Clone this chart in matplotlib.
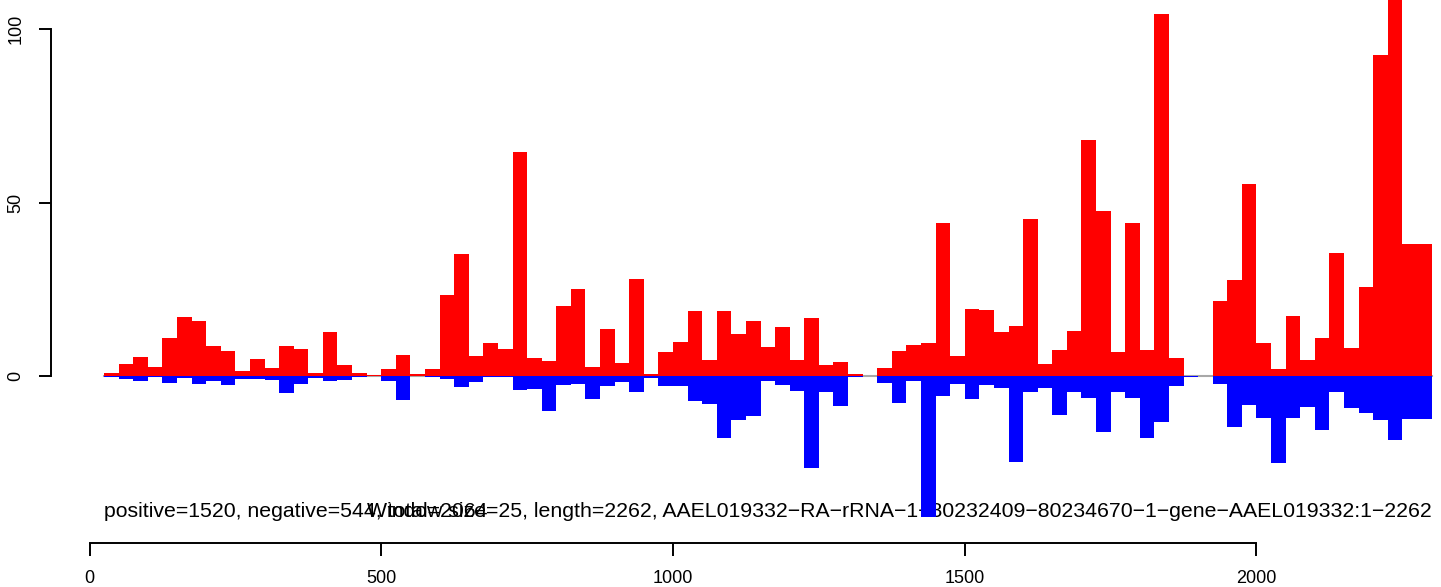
import numpy as np
import matplotlib
matplotlib.use("Agg")
import matplotlib.pyplot as plt

plt.rcParams['font.family'] = ['Liberation Sans', 'DejaVu Sans']

#Window settings
window = 25
seq_len = 2262

#Positive strand values per window
pos = [0.9, 3.5, 5.5, 2.6, 11.0, 17.0, 15.9, 8.6, 7.2, 1.4,
       4.9, 2.3, 8.6, 7.8, 0.9, 12.7, 3.2, 0.9, 0.3, 2.0,
       6.1, 0.6, 2.0, 23.3, 35.2, 5.8, 9.5, 7.8, 64.6, 5.2,
       4.3, 20.2, 25.1, 2.6, 13.5, 3.7, 28.0, 0.6, 6.9, 9.8,
       18.7, 4.6, 18.7, 12.1, 15.9, 8.4, 14.1, 4.6, 16.7, 3.2,
       4.0, 0.6, 0.0, 2.3, 7.2, 8.9, 9.5, 44.1, 5.8, 19.3,
       19.0, 12.7, 14.4, 45.2, 3.5, 7.5, 13.0, 68.0, 47.6, 6.9,
       44.1, 7.5, 104.3, 5.2, 0.0, 0.0, 21.6, 27.7, 55.3, 9.5,
       2.0, 17.3, 4.6, 11.0, 35.4, 8.1, 25.6, 92.5, 115.0, 38.0,
       38.0]

#Negative strand values per window
neg = [0.2, 0.8, 1.4, 0.2, 1.9, 0.5, 2.2, 1.4, 2.5, 0.8,
       0.8, 1.1, 4.8, 2.2, 0.5, 1.3, 1.1, 0.2, 0.0, 1.4,
       6.9, 0.0, 0.2, 0.9, 3.2, 1.7, 0.3, 0.3, 4.0, 3.7,
       10.1, 2.6, 2.3, 6.6, 2.9, 1.7, 4.6, 0.5, 2.8, 2.8,
       7.1, 8.0, 17.8, 12.6, 11.4, 1.3, 2.5, 4.2, 26.4, 4.5,
       8.5, 0.2, 0.0, 1.9, 7.7, 1.3, 40.6, 5.7, 2.2, 6.5,
       2.5, 3.4, 24.7, 4.5, 3.4, 11.1, 4.5, 6.1, 15.9, 4.6,
       6.3, 17.9, 13.3, 2.9, 0.3, 0.0, 2.2, 14.7, 8.4, 12.1,
       25.0, 12.1, 8.9, 15.6, 4.6, 9.2, 10.7, 12.7, 18.4, 12.4,
       12.4]

x_ticks = [0, 500, 1000, 1500, 2000]
y_ticks = [0, 50, 100]

left_text = "positive=1520, negative=544, total=2064"
right_text = ("Window size=25, length=2262, "
              "AAEL019332\u2212RA\u2212rRNA\u22121\u221280232409\u221280234670"
              "\u22121\u2212gene\u2212AAEL019332:1\u22122262")

starts = window * (np.arange(len(pos)) + 1)

fig = plt.figure(figsize=(14.41, 5.87), dpi=100)
ax = fig.add_axes([0, 0, 1, 1])

#Zero line
ax.plot([starts[0], starts[-1] + window], [0, 0], color='#a8a8a8', lw=1.5, zorder=1)

#Labels under the bars (they overlap in the original too)
ax.text(starts[0], -40.5, left_text, ha='left', va='baseline', fontsize=15.3, zorder=2)
ax.text(starts[-1] + window, -40.5, right_text, ha='right', va='baseline', fontsize=15.3, zorder=2)

#Bars
ax.bar(starts, pos, width=window, align='edge', color='#ff0000', lw=0, zorder=3)
ax.bar(starts, -np.array(neg), width=window, align='edge', color='#0000ff', lw=0, zorder=3)

ax.set_xlim(-153.4, 2316.2)
ax.set_ylim(-60.7, 108.44)

for s in ['top', 'right']:
    ax.spines[s].set_visible(False)
ax.spines['bottom'].set_position(('data', -47.9))
ax.spines['bottom'].set_bounds(0, 2000)
ax.spines['left'].set_position(('data', -66.0))
ax.spines['left'].set_bounds(0, 100)
for s in ['bottom', 'left']:
    ax.spines[s].set_linewidth(1.4)

ax.set_xticks(x_ticks)
ax.set_yticks(y_ticks)
ax.tick_params(axis='x', length=9, width=1.4, pad=10.5, labelsize=13)
ax.tick_params(axis='y', length=9, width=1.4, pad=10, labelsize=13, labelrotation=90)
for lab in ax.get_yticklabels():
    lab.set_va('center')

fig.savefig("out.png", dpi=100)
